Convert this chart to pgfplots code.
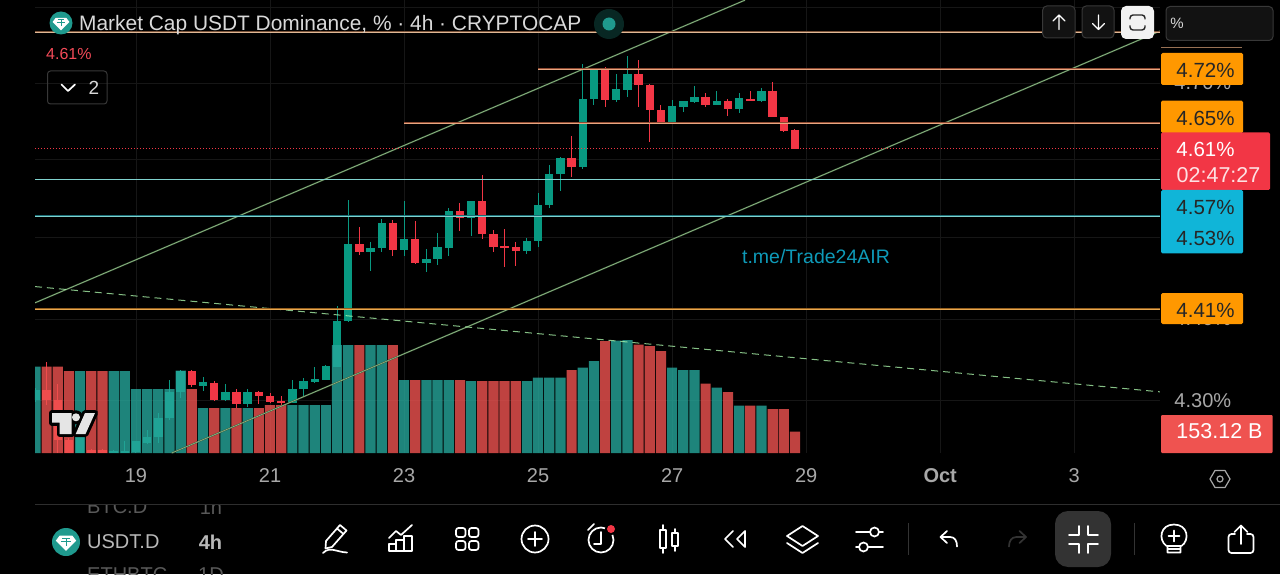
\documentclass[border=0pt]{standalone}
\usepackage{fontspec}
\setmainfont{Liberation Sans}
\usepackage{pgfplots}
\usepackage{pgfplotstable}
\pgfplotsset{compat=1.18}

\definecolor{cup}{HTML}{089981}
\definecolor{cdown}{HTML}{F23645}
\definecolor{vup}{HTML}{26A69A}
\definecolor{vdown}{HTML}{EF5350}
\definecolor{chanh}{HTML}{3F6040}
\definecolor{chanc}{HTML}{9CC48E}
\definecolor{tanh}{HTML}{7A5238}
\definecolor{tanc}{HTML}{E0B896}
\definecolor{orgh}{HTML}{8E4A32}
\definecolor{orgc}{HTML}{E8A680}
\definecolor{org2h}{HTML}{96601F}
\definecolor{org2c}{HTML}{E8A850}
\definecolor{cyah}{HTML}{1A6C74}
\definecolor{cyac}{HTML}{80D2CE}
\definecolor{boxo}{HTML}{FF9800}
\definecolor{boxc}{HTML}{10B5D8}
\definecolor{boxr}{HTML}{F23645}
\definecolor{gridc}{HTML}{161616}
\definecolor{tickc}{HTML}{A8A8A8}
\definecolor{teth}{HTML}{1F9A8E}

% candles, 4h each, x = 0 at 19 Sep 00:00: i open high low close
\pgfplotstableread{
i o h l c
-9 4.292 4.308 4.290 4.305
-5 4.224 4.245 4.224 4.245
-2 4.224 4.228 4.224 4.226
-1 4.224 4.239 4.224 4.226
0 4.225 4.240 4.224 4.239
1 4.237 4.254 4.236 4.245
2 4.245 4.276 4.237 4.269
3 4.269 4.318 4.267 4.303
4 4.303 4.331 4.295 4.330
6 4.310 4.322 4.304 4.316
8 4.292 4.313 4.291 4.303
10 4.287 4.307 4.284 4.303
14 4.289 4.318 4.289 4.307
15 4.307 4.321 4.297 4.317
16 4.316 4.335 4.315 4.319
17 4.318 4.338 4.318 4.336
18 4.335 4.414 4.335 4.395
19 4.394 4.551 4.393 4.494
21 4.484 4.496 4.459 4.489
22 4.489 4.526 4.484 4.521
24 4.486 4.550 4.478 4.500
26 4.470 4.487 4.458 4.475
27 4.475 4.508 4.467 4.490
28 4.489 4.541 4.478 4.537
30 4.528 4.549 4.504 4.549
35 4.485 4.502 4.481 4.498
36 4.498 4.560 4.490 4.544
37 4.544 4.596 4.541 4.584
38 4.584 4.606 4.563 4.605
40 4.594 4.727 4.591 4.681
41 4.681 4.720 4.674 4.719
43 4.680 4.714 4.677 4.694
44 4.693 4.737 4.684 4.713
48 4.649 4.680 4.649 4.672
49 4.671 4.679 4.665 4.679
50 4.678 4.698 4.676 4.684
52 4.674 4.692 4.674 4.679
54 4.668 4.689 4.663 4.682
56 4.679 4.696 4.677 4.691
}\upcandles

\pgfplotstableread{
i o h l c
-8 4.305 4.342 4.286 4.292
-7 4.292 4.313 4.224 4.241
-6 4.241 4.243 4.224 4.224
-4 4.228 4.229 4.224 4.224
-3 4.228 4.229 4.224 4.224
5 4.330 4.331 4.309 4.312
7 4.315 4.317 4.291 4.292
9 4.303 4.307 4.282 4.287
11 4.303 4.304 4.287 4.298
12 4.298 4.301 4.289 4.290
13 4.291 4.297 4.284 4.290
20 4.494 4.516 4.480 4.484
23 4.521 4.525 4.478 4.486
25 4.500 4.524 4.468 4.470
29 4.537 4.547 4.511 4.528
31 4.549 4.583 4.501 4.507
32 4.507 4.512 4.484 4.490
33 4.491 4.513 4.464 4.490
34 4.490 4.497 4.466 4.485
39 4.605 4.633 4.580 4.594
42 4.719 4.723 4.671 4.680
45 4.713 4.732 4.671 4.699
46 4.700 4.701 4.626 4.667
47 4.667 4.674 4.649 4.649
51 4.684 4.689 4.671 4.674
53 4.679 4.681 4.660 4.668
55 4.681 4.692 4.679 4.679
57 4.691 4.703 4.658 4.658
58 4.658 4.658 4.639 4.640
59 4.641 4.642 4.617 4.617
}\downcandles

% market cap bars, billions
\pgfplotstableread{
i v
-9 154.42
-5 154.33
-2 154.33
-1 154.33
0 153.97
1 153.97
2 153.97
3 153.97
4 154.34
6 153.59
8 153.59
10 153.59
14 153.65
15 153.65
16 153.65
17 153.65
18 154.85
19 154.85
21 154.85
22 154.85
24 154.15
26 154.15
27 154.15
28 154.15
30 154.13
35 154.13
36 154.20
37 154.20
38 154.20
40 154.40
41 154.53
43 154.94
44 154.95
48 154.40
49 154.35
50 154.35
52 154.00
54 153.64
56 153.64
}\upvol

\pgfplotstableread{
i v
-8 154.42
-7 154.42
-6 154.33
-4 154.33
-3 154.33
5 153.97
7 153.59
9 153.59
11 153.59
12 153.65
13 153.65
20 154.85
23 154.85
25 154.15
29 154.15
31 154.13
32 154.13
33 154.13
34 154.13
39 154.35
42 154.93
45 154.86
46 154.83
47 154.73
51 154.08
53 153.91
55 153.64
57 153.57
58 153.57
59 153.12
}\downvol

\pgfplotsset{
  chartbase/.style={
    at={(35pt,121pt)}, anchor=south west,
    scale only axis, width=1125pt, height=453pt,
    xmin=-9.042, xmax=91.674,
  },
  priceaxis/.style={chartbase, ymin=4.224, ymax=4.8092},
  candle/.style 2 args={no marks, draw=none, forget plot,
    error bars/.cd, y dir=both, y explicit, error mark=none,
    error bar style={draw=#1, line width=#2}},
  hl/.style={no marks, forget plot},
}

\newcommand{\wicks}[2]{\addplot[candle={#1}{1pt}]
  table[x=i, y expr={(\thisrow{h}+\thisrow{l})/2}, y error expr={(\thisrow{h}-\thisrow{l})/2}] {#2};}
\newcommand{\bodies}[2]{\addplot[candle={#1}{8.4pt}]
  table[x=i, y expr={(\thisrow{o}+\thisrow{c})/2}, y error expr={abs(\thisrow{c}-\thisrow{o})/2}] {#2};}
% a drawn line: soft halo, light core, as in the compressed screenshot
\newcommand{\twotone}[3]{%
  \addplot[hl, #1, line width=1.5pt] coordinates {#3};
  \addplot[hl, #2, line width=0.5pt] coordinates {#3};}

% tether logo at x,y with radius r
\newcommand{\tether}[3]{%
  \fill[teth] (#1,#2) circle[radius=#3];
  \begin{scope}[shift={(#1,#2)}, x=#3pt/11, y=-#3pt/11]
    \fill[white] (-5,-5)--(5,-5)--(8,-1)--(0,7)--(-8,-1)--cycle;
    \draw[teth, line width=1pt] (-3,-3)--(3,-3) (0,-3)--(0,3) (-4,-0.5)--(4,-0.5);
  \end{scope}}

\newcommand{\fs}[1]{\fontsize{#1}{#1}\selectfont}

\begin{document}
\begin{tikzpicture}
\useasboundingbox (0,0) rectangle (1280pt,574pt);
\fill[black] (0,0) rectangle (1280pt,574pt);

% grid, ticks, candles
\begin{axis}[priceaxis,
  axis line style={draw=none}, tick style={draw=none},
  grid=major, grid style={gridc, line width=0.8pt},
  xtick={0,12,24,36,48,60,72,84},
  xticklabels={19,21,23,25,27,29,\textbf{Oct},3},
  xticklabel style={font=\fs{20}, text=tickc, yshift=-12pt},
  ytick={4.292,4.397,4.502,4.603,4.702,4.799},
  yticklabels={4.30\%,4.40\%,4.50\%,4.60\%,4.70\%,{}},
  yticklabel pos=right,
  yticklabel style={font=\fs{20}, text=tickc, anchor=west, xshift=11pt},
]
\wicks{cup}{\upcandles}
\wicks{cdown}{\downcandles}
\bodies{cup}{\upcandles}
\bodies{cdown}{\downcandles}
\end{axis}

% market cap columns
\begin{axis}[chartbase, hide axis, ymin=152.69, ymax=161.75]
\addplot[ybar, bar width=10.2pt, bar shift=0pt, draw=none, fill=vup, fill opacity=0.8, forget plot]
  table[x=i, y=v] {\upvol};
\addplot[ybar, bar width=10.2pt, bar shift=0pt, draw=none, fill=vdown, fill opacity=0.8, forget plot]
  table[x=i, y=v] {\downvol};
\end{axis}

% drawings
\begin{axis}[priceaxis, hide axis]
\twotone{chanh}{chanc}{(-9.042,4.418) (54.52,4.809)}
\twotone{chanh}{chanc}{(3.196,4.224) (91.67,4.769)}
\addplot[hl, color=white!70!green, line width=1pt, dash pattern=on 7pt off 5pt, opacity=0.75] coordinates {(-9.042,4.439) (91.67,4.303)};
\twotone{tanh}{tanc}{(-9.042,4.768) (91.67,4.768)}
\twotone{orgh}{orgc}{(36,4.72) (91.67,4.72)}
\twotone{orgh}{orgc}{(24,4.65) (91.67,4.65)}
\addplot[hl, cdown, line width=0.8pt, dash pattern=on 1pt off 2pt] coordinates {(-9.042,4.617) (91.67,4.617)};
\twotone{cyah}{cyac}{(-9.042,4.577) (91.67,4.577)}
\twotone{cyah}{cyac}{(-9.042,4.530) (91.67,4.530)}
\twotone{org2h}{org2c}{(-9.042,4.41) (91.67,4.41)}
\end{axis}

% everything below in image pixels, y down
\begin{scope}[shift={(0,574pt)}, x=1pt, y=-1pt,
  icon/.style={draw=white, line width=1.7pt, line cap=round, line join=round}]

% tradingview mark
\begin{scope}[line join=round]
  \draw[black, line width=6pt] (52,413)--(71.7,413)--(71.7,434)--(59.5,434)--(59.5,422.7)--(52,422.7)--cycle;
  \draw[black, line width=6pt] (85,413)--(95,413)--(85.5,434)--(75.7,434)--cycle;
  \fill[black] (76,417.3) circle[radius=7];
  \fill[white!90!black] (52,413)--(71.7,413)--(71.7,434)--(59.5,434)--(59.5,422.7)--(52,422.7)--cycle;
  \fill[white!90!black] (85,413)--(95,413)--(85.5,434)--(75.7,434)--cycle;
  \fill[white!90!black] (76,417.3) circle[radius=4];
\end{scope}

% price labels
\fill[tanh!70!tanc] (1161,46.7) rectangle (1242,47.9);
\fill[boxo, rounded corners=1.5pt] (1161,53) rectangle (1243,85);
\fill[boxo, rounded corners=1.5pt] (1161,100.7) rectangle (1243,133);
\fill[boxr, rounded corners=1.5pt] (1161,132.3) rectangle (1270,190);
\fill[boxc, rounded corners=1.5pt] (1161,190) rectangle (1243,253.5);
\fill[boxo, rounded corners=1.5pt] (1161,293) rectangle (1243,324);
\fill[vdown, rounded corners=1pt] (1161,415) rectangle (1272.5,453);
\begin{scope}[every node/.style={font=\fs{20.5}, inner sep=0pt}]
  \node[text=black!85] at (1205.5,70) {4.72\%};
  \node[text=black!85] at (1205.5,118) {4.65\%};
  \node[text=white] at (1205.5,149.5) {4.61\%};
  \node[text=white!85!boxr, font=\fs{21.5}] at (1218.5,175.5) {02:47:27};
  \node[text=black!85] at (1205.5,207) {4.57\%};
  \node[text=black!85] at (1205.5,238) {4.53\%};
  \node[text=black!85] at (1205.5,310) {4.41\%};
  \node[text=white, font=\fs{21.5}] at (1219.5,431) {153.12 B};
\end{scope}
\node[font=\fs{19.5}, text=boxc!85!black, inner sep=0pt] at (816,257) {t.me/Trade24AIR};

% header
\node[font=\fs{20.9}, text=white!85!black, anchor=west, inner sep=0pt] at (79,25) {Market Cap USDT Dominance, \% · 4h · CRYPTOCAP};
\tether{61}{23}{11.5}
\fill[teth!25!black] (609,24) circle[radius=15];
\fill[teth] (609,24) circle[radius=6.5];
\node[font=\fs{16}, text=cdown!90!white, anchor=west, inner sep=0pt] at (46,53.5) {4.61\%};
\draw[white!22!black, rounded corners=3pt, line width=1pt] (47.5,71) rectangle (107,104);
\draw[icon] (61.5,84.5)--(68,91)--(75,84.5);
\node[font=\fs{19}, text=white!85!black, inner sep=0pt] at (94,87.5) {2};

% top right controls
\filldraw[draw=white!22!black, fill=white!7!black, rounded corners=4pt, line width=1pt] (1042.7,6) rectangle (1075,38);
\filldraw[draw=white!22!black, fill=white!7!black, rounded corners=4pt, line width=1pt] (1082,6) rectangle (1114,38);
\fill[white!95!black, rounded corners=5pt] (1121,6) rectangle (1154,39);
\filldraw[draw=white!22!black, fill=white!7!black, rounded corners=4pt, line width=1pt] (1166,6.5) rectangle (1273,40.5);
\node[font=\fs{15}, text=white!85!black, inner sep=0pt] at (1177,23) {\%};
\draw[icon, line width=1.3pt] (1059,29.5)--(1059,15) (1053,21)--(1059,15)--(1065,21);
\draw[icon, line width=1.3pt] (1098.5,15)--(1098.5,29.5) (1092.5,23.5)--(1098.5,29.5)--(1104.5,23.5);
\draw[black!85, line width=1.4pt, rounded corners=3pt] (1130,19.5)--(1130,15)--(1145,15)--(1145,19.5) (1130,25.5)--(1130,30)--(1145,30)--(1145,25.5);

% time axis end
\draw[white!18!black, line width=1pt] (35,504.3)--(1280,504.3);
\draw[tickc, line width=1.2pt, line join=round] (1230,479)--(1225,470.5)--(1215,470.5)--(1210,479)--(1215,487.5)--(1225,487.5)--cycle;
\draw[tickc, line width=1.2pt] (1220,479) circle[radius=3];

% symbol list
\begin{scope}
  \clip (0,505) rectangle (300,574);
  \node[font=\fs{20}, text=white!35!black, anchor=west, inner sep=0pt] at (87,507) {BTC.D};
  \node[font=\fs{20}, text=white!35!black, inner sep=0pt] at (211,507) {1h};
  \node[font=\fs{20}, text=white!35!black, anchor=west, inner sep=0pt] at (87,575) {ETHBTC};
  \node[font=\fs{20}, text=white!35!black, inner sep=0pt] at (211,575) {1D};
\end{scope}
\tether{66}{542}{14}
\node[font=\fs{20}, text=white!72!black, anchor=west, inner sep=0pt] at (87,542) {USDT.D};
\node[font=\fs{20}\bfseries, text=white!72!black, inner sep=0pt] at (210.5,542) {4h};

% bottom toolbar
\draw[icon] (326,541)--(340,525)--(346.5,530.5)--(332,547)--(325.5,548.5)--cycle (337,528.5)--(343.5,534);
\draw[icon] (323,553) .. controls (330,546) and (336,552) .. (347,552.5);
\draw[icon] (389,538)--(396,531)--(401,535)--(412,525);
\draw[icon, line width=1.5pt] (389,551) rectangle (396,544) (396,551) rectangle (404,540) (404,551) rectangle (412,536);
\draw[icon, rounded corners=2.5pt] (456,528) rectangle (465.5,537) (469,528) rectangle (478.5,537) (456,541) rectangle (465.5,550) (469,541) rectangle (478.5,550);
\draw[icon] (535,539) circle[radius=13.5] (528,539)--(542,539) (535,532)--(535,546);
\draw[icon] (601,540) circle[radius=12.5] (601,532)--(601,544)--(594,544) (588,530)--(594,524);
\fill[black] (611,529) circle[radius=6];
\fill[cdown] (611,529) circle[radius=4];
\draw[icon] (663,525)--(663,553) (675,529)--(675,551);
\filldraw[icon, fill=black] (660,530) rectangle (666,548) (672,533) rectangle (678,546);
\draw[icon] (733,531)--(725,539)--(733,547) (745,531)--(737,539)--(745,547)--cycle;
\draw[icon] (802.5,526)--(818,536)--(802.5,546)--(787,536)--cycle (787,543)--(802.5,553)--(818,543);
\draw[icon] (856,532)--(870,532) (879,532)--(883,532) (856,547)--(859,547) (868,547)--(883,547) (874.5,532) circle[radius=4.5] (863.5,547) circle[radius=4.5];
\draw[white!20!black, line width=1pt] (908.6,523)--(908.6,555) (1134,523)--(1134,555);
\draw[icon] (947,531)--(940.5,537)--(947,543) (940.5,537)--(950,537) .. controls (955,537) and (957,541) .. (957,546.5);
\draw[icon, draw=white!20!black] (1019.5,531)--(1026,537)--(1019.5,543) (1026,537)--(1016.5,537) .. controls (1011.5,537) and (1009,541) .. (1009,546.5);
\fill[white!20!black, rounded corners=13pt] (1055,511) rectangle (1111,567);
\draw[icon] (1079,526)--(1079,535)--(1069,535) (1088,526)--(1088,535)--(1098,535) (1069,544)--(1079,544)--(1079,553) (1098,544)--(1088,544)--(1088,553);
\draw[icon] (1166.5,546) .. controls (1158,540) and (1160,524.5) .. (1174,524.5) .. controls (1188,524.5) and (1190,540) .. (1181.5,546) (1167,546)--(1181,546) (1167.5,546)--(1167.5,552.5)--(1180.5,552.5)--(1180.5,546) (1168,549)--(1180,549) (1168.5,536)--(1179.5,536) (1174,530.5)--(1174,541.5);
\draw[icon, rounded corners=3pt] (1235,534)--(1228.5,534)--(1228.5,553)--(1253.5,553)--(1253.5,534)--(1247,534);
\draw[icon] (1241,544)--(1241,525.5) (1234.5,532)--(1241,525.5)--(1247.5,532);
\end{scope}
\end{tikzpicture}
\end{document}
